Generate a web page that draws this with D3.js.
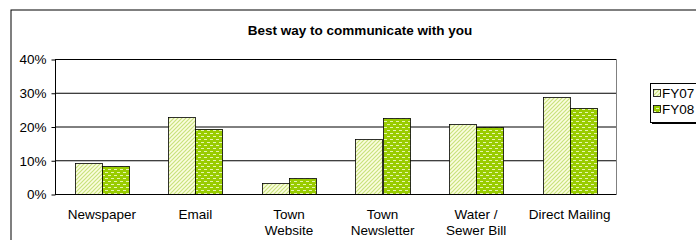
<!DOCTYPE html>
<html>
<head>
<meta charset="utf-8">
<script src="https://cdn.jsdelivr.net/npm/d3@7"></script>
<style>
  body { margin: 0; background: #fff; }
  svg { font-family: Arial, "Liberation Sans", sans-serif; display: block; }
</style>
</head>
<body>
<div id="chart"></div>
<script>
const categories = [['Newspaper'], ['Email'], ['Town', 'Website'], ['Town', 'Newsletter'], ['Water /', 'Sewer Bill'], ['Direct Mailing']];
const seriesNames = ['FY07', 'FY08'];
const fy07 = [0.092, 0.227, 0.034, 0.162, 0.206, 0.286];
const fy08 = [0.083, 0.192, 0.047, 0.226, 0.199, 0.254];
const yTicks = [0, 0.1, 0.2, 0.3, 0.4];

const width = 696;
const height = 240;
const margin = { top: 59, bottom: 46, left: 55, right: 80 };

const svg = d3.select('#chart')
    .append('svg')
    .attr('width', width)
    .attr('height', height);

const defs = svg.append('defs');

// FY07: pale hatch
const p1 = defs.append('pattern')
    .attr('id', 'pat07')
    .attr('patternUnits', 'userSpaceOnUse')
    .attr('width', 4).attr('height', 4);
p1.append('rect').attr('width', 4).attr('height', 4).attr('fill', '#fbfde0');
p1.append('path').attr('d', 'M-1,1 L1,-1 M0,4 L4,0 M3,5 L5,3')
    .attr('stroke', '#c9e27c').attr('stroke-width', 1.2);

// FY08: green with white dashes
const p2 = defs.append('pattern')
    .attr('id', 'pat08')
    .attr('patternUnits', 'userSpaceOnUse')
    .attr('width', 6).attr('height', 6);
p2.append('rect').attr('width', 6).attr('height', 6).attr('fill', '#99cc00');
p2.append('rect').attr('x', 0).attr('y', 1).attr('width', 3).attr('height', 1).attr('fill', '#e6f5b0');
p2.append('rect').attr('x', 3).attr('y', 4).attr('width', 3).attr('height', 1).attr('fill', '#e6f5b0');

const fills = ['url(#pat07)', 'url(#pat08)'];

// outer chart border
svg.append('rect')
    .attr('x', 11).attr('y', 10)
    .attr('width', 720).attr('height', 260)
    .attr('fill', 'none')
    .attr('stroke', '#000')
    .attr('stroke-width', 1);

svg.append('text')
    .attr('x', 360).attr('y', 35)
    .attr('text-anchor', 'middle')
    .attr('font-size', '13.5px')
    .attr('font-weight', 'bold')
    .text('Best way to communicate with you');

const x = d3.scaleBand()
    .domain(d3.range(categories.length))
    .range([margin.left, width - margin.right + 0.5]);

const xs = d3.scaleBand()
    .domain(seriesNames)
    .range([0, x.bandwidth()])
    .paddingOuter(0.73);

const y = d3.scaleLinear()
    .domain([0, 0.4])
    .range([height - margin.bottom, margin.top]);

// gridlines
svg.append('g')
    .selectAll('line')
    .data(yTicks.slice(1))
    .join('line')
    .attr('x1', margin.left).attr('x2', x.range()[1])
    .attr('y1', d => y(d) + 0.5).attr('y2', d => y(d) + 0.5)
    .attr('stroke', '#000');

// plot area right border
svg.append('line')
    .attr('x1', x.range()[1]).attr('x2', x.range()[1])
    .attr('y1', y(0.4)).attr('y2', y(0))
    .attr('stroke', '#808080');

const series = [fy07, fy08];
svg.append('g')
    .selectAll('g')
    .data(seriesNames)
    .join('g')
    .attr('fill', (d, i) => fills[i])
    .selectAll('rect')
    .data((s, si) => series[si].map((v, i) => ({ s, v, i })))
    .join('rect')
    .attr('x', d => Math.round(x(d.i) + xs(d.s)) + 0.5)
    .attr('y', d => Math.round(y(d.v)) + 0.5)
    .attr('width', Math.round(xs.bandwidth()))
    .attr('height', d => y(0) - Math.round(y(d.v)))
    .attr('stroke', '#000')
    .attr('stroke-width', 0.8);

// y axis
svg.append('g')
    .attr('transform', `translate(${margin.left + 0.5},0.5)`)
    .call(d3.axisLeft(y).tickValues(yTicks).tickFormat(d3.format('.0%')).tickSize(4).tickPadding(5))
    .call(g => g.selectAll('text').attr('font-size', '13.5px').attr('fill', '#000').attr('font-family', 'Arial, "Liberation Sans", sans-serif'))
    .call(g => g.select('.domain').attr('d', `M0,${y(0.4)}V${y(0)}`));

// x axis baseline
svg.append('line')
    .attr('x1', margin.left).attr('x2', x.range()[1])
    .attr('y1', y(0) + 0.5).attr('y2', y(0) + 0.5)
    .attr('stroke', '#000');

// category labels
const labels = svg.append('g')
    .attr('font-size', '13.5px')
    .attr('text-anchor', 'middle')
    .selectAll('text')
    .data(categories)
    .join('text')
    .attr('x', (d, i) => x(i) + x.bandwidth() / 2)
    .attr('y', 219);
labels.selectAll('tspan')
    .data(d => d)
    .join('tspan')
    .attr('x', function () { return this.parentNode.getAttribute('x'); })
    .attr('dy', (d, i) => i === 0 ? 0 : 15.5)
    .text(d => d);

// legend
const lg = svg.append('g').attr('transform', 'translate(650,83)');
lg.append('rect').attr('x', 2).attr('y', 2).attr('width', 70).attr('height', 39).attr('fill', '#000');
lg.append('rect').attr('x', 0.5).attr('y', 0.5).attr('width', 70).attr('height', 39).attr('fill', '#fff').attr('stroke', '#000');
seriesNames.forEach((s, i) => {
    lg.append('rect')
        .attr('x', 3.5).attr('y', 6.5 + i * 16)
        .attr('width', 7).attr('height', 7)
        .attr('fill', fills[i]).attr('stroke', '#000').attr('stroke-width', 0.8);
    lg.append('text')
        .attr('x', 12).attr('y', 15 + i * 16)
        .attr('font-size', '13.5px')
        .text(s);
});
</script>
</body>
</html>
